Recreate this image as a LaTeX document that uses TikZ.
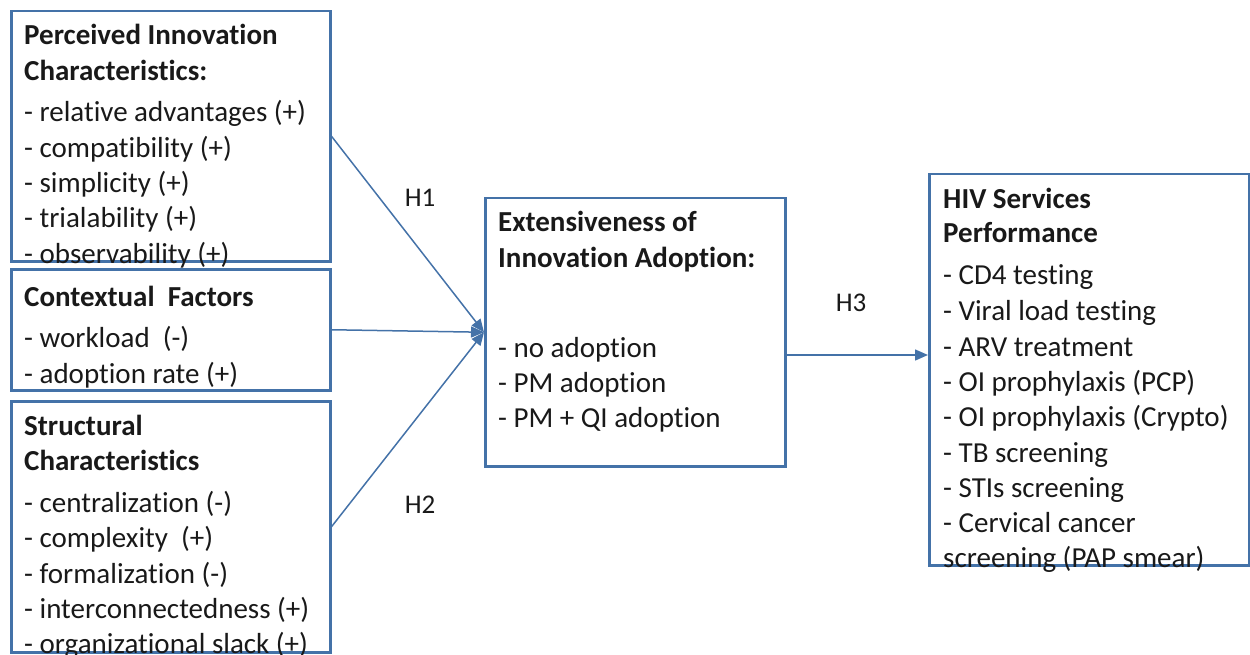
\documentclass[tikz,border=0pt]{standalone}
\usepackage{fontspec}
\setmainfont[Ligatures={NoCommon,NoContextual}]{Carlito}
\usetikzlibrary{arrows.meta}
\definecolor{frame}{RGB}{68,114,168}
\begin{document}
\begin{tikzpicture}[x=1pt,y=-1pt,
  box/.style={draw=frame,line width=2.5pt,inner sep=0pt,anchor=north west},
  txt/.style={anchor=base west,inner sep=0pt,text=black!90,font=\fontsize{29}{35}\selectfont},
  head/.style={txt,font=\fontsize{29}{35}\selectfont\bfseries},
  conn/.style={draw=frame,line width=1.5pt},
  tip/.style={-{Triangle[length=13pt,width=11pt]}},
  hlabel/.style={inner sep=0pt,text=black!90,font=\fontsize{27}{32}\selectfont}]
\useasboundingbox (0,0) rectangle (1250,655);

% frames
\node[box,minimum width=319pt,minimum height=250pt] (pic) at (10,10) {};
\node[box,minimum width=319pt,minimum height=121pt] (ctx) at (10,268) {};
\node[box,minimum width=319pt,minimum height=251pt] (str) at (10,400) {};
\node[box,minimum width=300pt,minimum height=268pt] (ext) at (484,197) {};
\node[box,minimum width=320pt,minimum height=391pt] (hiv) at (928,173) {};

% perceived innovation characteristics
\foreach \t/\y [count=\i] in {{Perceived Innovation}/45,{Characteristics:}/81}
  \node[head,name=pich\i] at (24,\y) {\t};
\foreach \t/\y [count=\i] in {{- relative advantages (+)}/122,{- compatibility (+)}/158,
    {- simplicity (+)}/193,{- trialability (+)}/228,{- observability (+)}/263}
  \node[txt,name=pici\i] at (24,\y) {\t};

% contextual factors
\node[head] (ctxh) at (24,306) {Contextual~ Factors};
\foreach \t/\y [count=\i] in {{- workload~ (-)}/347,{- adoption rate (+)}/383}
  \node[txt,name=ctxi\i] at (24,\y) {\t};

% structural characteristics
\foreach \t/\y [count=\i] in {{Structural}/435,{Characteristics}/470}
  \node[head,name=strh\i] at (24,\y) {\t};
\foreach \t/\y [count=\i] in {{- centralization (-)}/512,{- complexity~ (+)}/547,
    {- formalization (-)}/583,{- interconnectedness (+)}/618,{- organizational slack (+)}/653}
  \node[txt,name=stri\i] at (24,\y) {\t};

% extensiveness of adoption
\foreach \t/\y [count=\i] in {{Extensiveness of}/231,{Innovation Adoption:}/267}
  \node[head,name=exth\i] at (498,\y) {\t};
\foreach \t/\y [count=\i] in {{- no adoption}/357,{- PM adoption}/392,{- PM + QI adoption}/427}
  \node[txt,name=exti\i] at (498,\y) {\t};

% HIV services performance
\foreach \t/\y [count=\i] in {{HIV Services}/208,{Performance}/243}
  \node[head,name=hivh\i] at (943,\y) {\t};
\foreach \t/\y [count=\i] in {{- CD4 testing}/284,{- Viral load testing}/320,{- ARV treatment}/356,
    {- OI prophylaxis (PCP)}/391,{- OI prophylaxis (Crypto)}/426,{- TB screening}/462,
    {- STIs screening}/497,{- Cervical cancer}/532,{screening (PAP smear)}/567}
  \node[txt,name=hivi\i] at (943,\y) {\t};

% connectors
\draw[conn,tip] (pic.east) -- (ext.west);
\draw[conn,tip] (ctx.east) -- (ext.west);
\draw[conn,tip] (str.east) -- (ext.west);
\coordinate (h3) at (0,355);
\draw[conn,tip] (ext.east |- h3) -- (hiv.west |- h3);

% hypothesis labels
\node[hlabel] (lh1) at (420,198) {H1};
\node[hlabel] (lh2) at (420,505) {H2};
\node[hlabel] (lh3) at (851,303) {H3};
\end{tikzpicture}
\end{document}
